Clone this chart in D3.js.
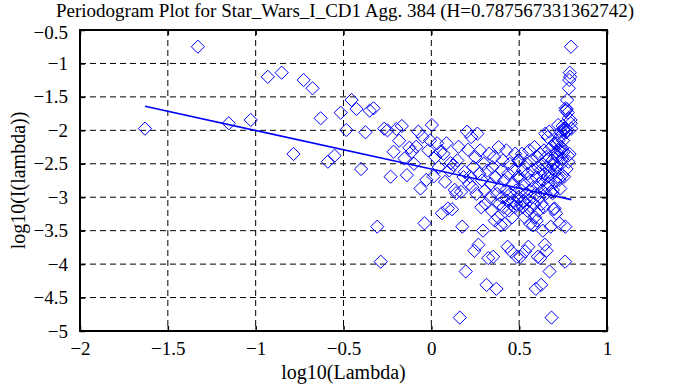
<!DOCTYPE html>
<html><head><meta charset="utf-8">
<script src="https://cdn.jsdelivr.net/npm/d3@7"></script>
<style>
html,body{margin:0;padding:0;background:#fff;}
svg{display:block;}
text{font-family:"Liberation Serif","Times New Roman",serif;fill:#000;}
</style></head>
<body>
<svg id="c" width="687" height="385"></svg>
<script>
const titleText = "Periodogram Plot for Star_Wars_I_CD1 Agg. 384 (H=0.787567331362742)";
const xLabel = "log10(Lambda)";
const yLabel = "log10(I(lambda))";
const xTicks = [-2, -1.5, -1, -0.5, 0, 0.5, 1];
const yTicks = [-5, -4.5, -4, -3.5, -3, -2.5, -2, -1.5, -1, -0.5];

// log10 of the periodogram frequencies
const logLambda = [
-1.630,-1.329,-1.153,-1.028,-0.931,-0.852,-0.785,-0.727,-0.676,-0.630,
-0.589,-0.551,-0.516,-0.484,-0.454,-0.426,-0.400,-0.375,-0.351,-0.329,
-0.308,-0.288,-0.268,-0.250,-0.232,-0.215,-0.199,-0.183,-0.168,-0.153,
-0.139,-0.125,-0.111,-0.099,-0.086,-0.074,-0.062,-0.050,-0.039,-0.028,
-0.017,-0.007,0.003,0.013,0.023,0.033,0.042,0.051,0.060,0.069,
0.078,0.086,0.094,0.102,0.110,0.118,0.126,0.133,0.141,0.148,
0.155,0.162,0.169,0.176,0.183,0.190,0.196,0.203,0.209,0.215,
0.221,0.227,0.233,0.239,0.245,0.251,0.256,0.262,0.268,0.273,
0.278,0.284,0.289,0.294,0.299,0.304,0.310,0.314,0.319,0.324,
0.329,0.334,0.338,0.343,0.348,0.352,0.357,0.361,0.366,0.370,
0.374,0.379,0.383,0.387,0.391,0.395,0.399,0.403,0.407,0.411,
0.415,0.419,0.423,0.427,0.431,0.434,0.438,0.442,0.446,0.449,
0.453,0.456,0.460,0.463,0.467,0.470,0.474,0.477,0.481,0.484,
0.487,0.491,0.494,0.497,0.500,0.504,0.507,0.510,0.513,0.516,
0.519,0.522,0.525,0.528,0.531,0.534,0.537,0.540,0.543,0.546,
0.549,0.552,0.555,0.558,0.560,0.563,0.566,0.569,0.571,0.574,
0.577,0.580,0.582,0.585,0.587,0.590,0.593,0.595,0.598,0.600,
0.603,0.606,0.608,0.611,0.613,0.616,0.618,0.620,0.623,0.625,
0.628,0.630,0.632,0.635,0.637,0.640,0.642,0.644,0.646,0.649,
0.651,0.653,0.656,0.658,0.660,0.662,0.664,0.667,0.669,0.671,
0.673,0.675,0.678,0.680,0.682,0.684,0.686,0.688,0.690,0.692,
0.694,0.696,0.698,0.700,0.702,0.704,0.706,0.708,0.710,0.712,
0.714,0.716,0.718,0.720,0.722,0.724,0.726,0.728,0.730,0.732,
0.734,0.735,0.737,0.739,0.741,0.743,0.745,0.747,0.748,0.750,
0.752,0.754,0.756,0.757,0.759,0.761,0.763,0.764,0.766,0.768,
0.770,0.771,0.773,0.775,0.777,0.778,0.780,0.782,0.783,0.785,
0.787,0.788,0.790,0.792,0.793,0.795,0.797
];

// log10 of the periodogram values
const logI = [
-1.975,-0.75,-1.895,-1.845,-1.20,-1.138,-2.354,-1.248,-1.372,-1.82,
-2.469,-2.379,-1.736,-1.995,-1.547,-1.681,-2.578,-2.03,-1.706,-1.671,
-3.44,-3.964,-1.975,-2.0,-2.693,-2.32,-1.98,-2.155,-1.935,-2.42,
-2.67,-2.26,-2.32,-2.5,-2.245,-2.02,-2.87,-2.095,-3.39,-2.74,
-2.3,-2.15,-1.92,-2.69,-2.4,-2.194,-2.55,-2.32,-3.24,-2.35,
-2.77,-2.194,-3.17,-2.6,-2.49,-3.18,-2.52,-2.89,-2.94,-2.45,
-2.245,-4.80,-2.92,-3.44,-2.7,-2.62,-4.11,-2.02,-2.29,-2.8,
-2.69,-2.10,-2.85,-2.55,-3.8,-2.4,-2.95,-2.05,-3.71,-2.65,
-2.3,-3.15,-2.75,-3.5,-2.5,-2.9,-3.1,-4.31,-2.6,-3.91,
-2.35,-3.0,-2.8,-3.2,-2.55,-3.89,-2.4,-3.35,-2.7,-4.37,
-2.95,-3.3,-2.25,-3.1,-2.85,-3.42,-2.6,-3.0,-2.45,-3.15,
-2.75,-3.4,-2.9,-2.3,-3.05,-3.74,-2.65,-3.2,-2.5,-2.95,
-3.1,-3.81,-3.3,-2.8,-3.05,-2.6,-3.15,-2.35,-2.9,-3.1,
-3.89,-2.7,-2.45,-3.0,
-2.45,-2.7,-3.89,-3.1,-2.9,-2.35,-3.15,-2.6,-3.05,-2.8,
-3.3,-3.81,-3.1,-2.95,-2.5,-3.2,-2.65,-3.74,-3.05,-2.3,
-2.9,-3.4,-2.75,-3.15,-2.45,-3.0,-2.6,-3.42,-2.85,-3.1,
-2.25,-3.3,-2.95,-4.37,-2.7,-3.35,-2.4,-3.89,-2.55,-3.2,
-2.8,-3.0,-2.35,-3.91,-2.6,-4.31,-3.1,-2.9,-2.5,-3.5,
-2.75,-3.15,-2.3,-2.65,-3.71,-2.05,-2.95,-2.4,-3.8,-2.55,
-2.85,-2.10,-2.69,-2.8,-2.29,-2.02,-4.11,-2.62,-2.7,-3.44,
-2.92,-4.80,-2.245,-2.45,-2.94,-2.89,-2.52,-3.18,-2.49,-2.6,
-3.17,-2.194,-2.77,-2.35,-3.24,-2.32,-2.55,-2.194,-2.4,-2.69,
-1.92,-2.15,-2.3,-2.74,-3.39,-2.095,-2.87,-2.02,-2.245,-2.5,
-2.32,-2.26,-2.67,-2.42,-1.935,-2.155,-1.98,-2.32,-2.693,-2.0,
-1.975,-3.964,-3.44,-1.671,-1.706,-2.03,-2.578,-1.681,-1.547,-1.995,
-1.736,-2.379,-2.469,-1.82,-1.372,-1.248,-2.354,-1.138,-1.20,-1.845,
-1.895,-0.75,-1.975
];

// least-squares fit line endpoints (slope = 1 - 2H)
const fitX = [-1.630, 0.797];
const fitY = [-1.640, -3.036];

const FONT = "Liberation Serif";
const svg = d3.select("#c");
const L = 80, R = 607, T = 30, B = 331;
const x = d3.scaleLinear().domain([-2, 1]).range([L, R]);
const y = d3.scaleLinear().domain([-5, -0.5]).range([B, T]);

// grid
const g = svg.append("g");
g.selectAll(".gx").data(xTicks.slice(1, -1)).join("line")
  .attr("x1", d => x(d)).attr("x2", d => x(d)).attr("y1", T).attr("y2", B)
  .attr("stroke", "#000").attr("stroke-width", 1).attr("stroke-dasharray", "6,4");
g.selectAll(".gy").data(yTicks.slice(1, -1)).join("line")
  .attr("y1", d => y(d)).attr("y2", d => y(d)).attr("x1", L).attr("x2", R)
  .attr("stroke", "#000").attr("stroke-width", 1).attr("stroke-dasharray", "6,4");

// points
const r = 6.6;
const pts = logLambda.map((v, i) => [v, logI[i]]);
svg.append("g").selectAll("path").data(pts).join("path")
  .attr("d", d => {
    const cx = x(d[0]), cy = y(d[1]);
    return `M${cx},${cy - r}L${cx + r},${cy}L${cx},${cy + r}L${cx - r},${cy}Z`;
  })
  .attr("fill", "none").attr("stroke", "#0000ff").attr("stroke-width", 1);

// fit line
svg.append("path")
  .datum(fitX.map((v, i) => [v, fitY[i]]))
  .attr("d", d3.line().x(d => x(d[0])).y(d => y(d[1])))
  .attr("fill", "none").attr("stroke", "#0000ff").attr("stroke-width", 1.6);

// axes
const fmt = d3.format("");
const ax = svg.append("g").attr("transform", `translate(0,${B})`)
  .call(d3.axisBottom(x).tickValues(xTicks).tickFormat(fmt).tickSizeInner(-5).tickSizeOuter(0).tickPadding(11));
const ax2 = svg.append("g").attr("transform", `translate(0,${T})`)
  .call(d3.axisTop(x).tickValues(xTicks).tickFormat("").tickSizeInner(-5).tickSizeOuter(0));
const ay = svg.append("g").attr("transform", `translate(${L},0)`)
  .call(d3.axisLeft(y).tickValues(yTicks).tickFormat(fmt).tickSizeInner(-5).tickSizeOuter(0).tickPadding(12));
const ay2 = svg.append("g").attr("transform", `translate(${R},0)`)
  .call(d3.axisRight(y).tickValues(yTicks).tickFormat("").tickSizeInner(-5).tickSizeOuter(0));
[ax, ax2, ay, ay2].forEach(a => {
  a.select(".domain").remove();
  a.selectAll(".tick line").attr("stroke", "#000").attr("stroke-width", 1.5);
  a.selectAll("text").attr("font-family", FONT).attr("font-size", 19).attr("fill", "#000");
});
// nudge the top y label down slightly so it clears the title
ay.selectAll(".tick text").filter(d => d === -0.5).attr("dy", "0.45em");
svg.append("rect").attr("x", L).attr("y", T).attr("width", R - L).attr("height", B - T)
  .attr("fill", "none").attr("stroke", "#000").attr("stroke-width", 2);

// titles
svg.append("text").attr("x", 345).attr("y", 17).attr("text-anchor", "middle")
  .attr("font-family", FONT).attr("font-size", 19).text(titleText);
svg.append("text").attr("x", (L + R) / 2).attr("y", 379).attr("text-anchor", "middle")
  .attr("font-family", FONT).attr("font-size", 20).text(xLabel);
svg.append("text").attr("transform", `translate(25,${(T + B) / 2}) rotate(-90)`).attr("text-anchor", "middle")
  .attr("font-family", FONT).attr("font-size", 20).text(yLabel);
</script>
</body></html>
